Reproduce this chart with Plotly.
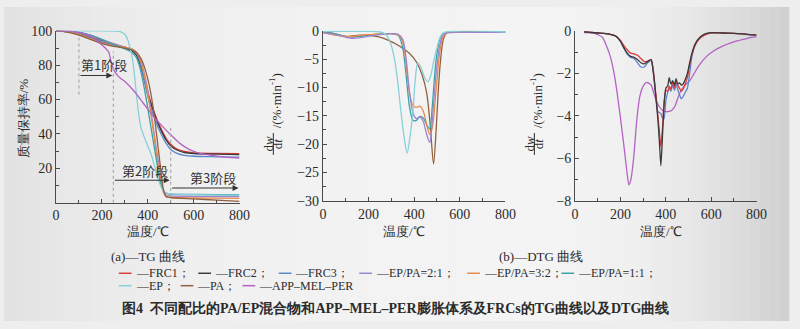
import numpy as np
import plotly.graph_objects as go

# ---------------- series definitions ----------------
names = ["FRC1", "FRC2", "FRC3", "EP/PA=2:1", "EP/PA=3:2", "EP/PA=1:1", "EP", "PA", "APP-MEL-PER"]
colors = ["#dc3b38", "#3a3a3a", "#5a86cc", "#9d84cf", "#e88a4c", "#3aa3a6", "#86d0da", "#93603f", "#b462c4"]

# TG curves: temperature (°C) and mass retention (%)
tg_T_frc = [0, 50, 100, 150, 200, 250, 300, 330, 350, 365, 380, 395, 410, 425, 440, 460, 480, 500, 530, 560, 600, 700, 800]
tg_frc1 = [100, 99.6, 98.5, 96.5, 94.5, 92.5, 90.5, 89, 86.5, 82, 75, 67, 60, 54, 48.5, 42.5, 37.5, 34, 31, 29.8, 29, 28.7, 28.5]
tg_frc2 = [100, 99.5, 98, 96, 93.5, 91.5, 90, 88.5, 86, 81, 74, 66, 59, 53, 47.5, 41.5, 36.5, 33, 30.5, 29.2, 28.6, 28.2, 28]
tg_frc3 = [100, 99.5, 98.3, 96.2, 93.8, 91.8, 90.5, 89.5, 87.5, 82.5, 74, 65, 57, 51, 45.5, 39.5, 34.5, 31, 28.5, 27.5, 27, 26.7, 26.5]

tg_T_mix = [0, 50, 100, 150, 200, 250, 300, 330, 350, 365, 380, 395, 410, 425, 440, 455, 468, 480, 500, 600, 800]
tg_ep_pa_21 = [100, 99.8, 99, 97.5, 95, 92.5, 90.5, 89, 87, 84, 78, 69, 57, 43, 29, 16, 7, 4.5, 4, 3.7, 3.5]
tg_ep_pa_32 = [100, 99.5, 98, 95.5, 93, 91.5, 90.5, 89.5, 87.5, 84, 77, 67, 55, 41, 27, 14, 6, 3.5, 3, 2.8, 2.5]
tg_ep_pa_11 = [100, 99.8, 99.2, 97.5, 95, 92, 89.5, 87.5, 84.5, 79, 70, 59, 47, 35, 23, 12, 7, 5.5, 5, 4.8, 4.5]

tg_T_pa = [0, 50, 100, 150, 200, 250, 300, 330, 350, 370, 390, 410, 425, 440, 455, 468, 480, 500, 600, 700, 800]
tg_pa = [100, 99.3, 97.5, 95, 92.5, 91, 90, 89, 87.5, 84, 77, 66, 54, 38, 21, 8, 3.5, 3, 2.2, 1.5, 0.8]

tg_T_ep = [0, 100, 200, 250, 280, 300, 315, 330, 340, 350, 360, 370, 385, 400, 415, 430, 445, 460, 475, 490, 550, 700, 800]
tg_ep = [100, 100, 100, 99.9, 99.5, 98, 94, 86, 77, 64, 52, 44, 38, 33, 28, 21, 14, 8.5, 6, 5.2, 4.8, 4.4, 4.2]

tg_T_app = [0, 50, 100, 150, 190, 215, 230, 240, 250, 265, 285, 300, 340, 380, 420, 460, 500, 540, 580, 620, 680, 740, 800]
tg_app = [100, 99.8, 99, 97, 93, 90, 87.5, 82, 78, 74.5, 72, 70.5, 65, 58, 51, 45, 39.5, 34.5, 31, 29, 27.5, 26.5, 26]

# DTG curves of the EP / PA systems: temperature (°C) and dw/dt (%·min⁻¹)
dtg_T_mix = [0, 60, 120, 180, 240, 300, 330, 350, 365, 380, 395, 410, 425, 440, 455, 468, 480, 495, 510, 525, 545, 600, 800]
dtg_ep_pa_21 = [-0.3, -0.7, -1.3, -1.1, -0.7, -0.5, -0.6, -1.5, -5, -11, -14.5, -15.5, -15.2, -16, -18.3, -19.7, -15.5, -8, -3, -0.8, -0.3, -0.25, -0.25]
dtg_ep_pa_32 = [-0.3, -0.8, -1.0, -0.7, -0.6, -0.5, -0.7, -2, -6, -11, -13.2, -13.5, -13.3, -14.2, -16.5, -18.3, -17, -11, -4.5, -1.2, -0.3, -0.25, -0.25]
dtg_ep_pa_11 = [-0.2, -0.6, -1.1, -0.9, -0.6, -0.5, -0.8, -3, -8, -13.5, -15.8, -15.8, -15.1, -15.4, -16.6, -17.3, -13, -5.5, -1.8, -0.5, -0.3, -0.25, -0.25]

dtg_T_pa = [0, 50, 100, 150, 200, 250, 300, 340, 380, 410, 435, 455, 470, 485, 497, 505, 515, 528, 545, 600, 800]
dtg_pa = [-0.2, -0.5, -1.0, -0.8, -0.8, -1.1, -1.9, -2.8, -4.0, -5.5, -7.8, -11, -16.5, -23.5, -17, -11, -5.5, -1.5, -0.3, -0.2, -0.2]

dtg_T_ep = [0, 100, 200, 250, 275, 295, 310, 325, 340, 355, 369, 383, 395, 405, 416, 430, 445, 459, 472, 485, 500, 515, 530, 800]
dtg_ep = [-0.1, -0.1, -0.1, -0.2, -0.6, -2, -4.2, -8, -13.5, -18.5, -21.6, -18.3, -14, -8.5, -5.6, -6.5, -8.2, -9, -8, -5.5, -3, -1, -0.3, -0.2]

# DTG curves of the intumescent system and FRCs
dtg_T_frc = [40, 100, 150, 180, 200, 215, 230, 245, 260, 275, 290, 305, 320, 335, 345, 355, 365, 372, 378, 385, 392, 400,
             408, 415, 422, 430, 438, 445, 452, 460, 468, 476, 485, 495, 505, 515, 530, 550, 570, 600, 650, 700, 750, 800]
dtg_frc1 = [-0.05, -0.1, -0.15, -0.25, -0.45, -0.7, -0.9, -1.05, -1.08, -1.15, -1.3, -1.45, -1.42, -1.35, -1.9, -2.9, -4.0, -4.8,
            -5.45, -4.6, -3.4, -2.8, -2.85, -2.6, -2.75, -2.4, -2.7, -2.35, -2.55, -2.7, -2.85, -2.75, -2.5, -2.2, -1.6, -1.1,
            -0.65, -0.35, -0.2, -0.1, -0.1, -0.12, -0.15, -0.2]
dtg_frc2 = [-0.05, -0.1, -0.15, -0.25, -0.5, -0.8, -1.05, -1.2, -1.25, -1.35, -1.5, -1.55, -1.45, -1.35, -1.95, -3.0, -4.2, -5.3,
            -6.35, -5.0, -3.5, -2.7, -2.6, -2.2, -2.5, -2.35, -2.55, -2.25, -2.5, -2.45, -2.55, -2.5, -2.3, -2.0, -1.5, -1.05,
            -0.6, -0.3, -0.15, -0.08, -0.1, -0.12, -0.15, -0.2]
dtg_frc3 = [-0.05, -0.1, -0.15, -0.25, -0.5, -0.8, -1.1, -1.25, -1.3, -1.5, -1.7, -1.7, -1.5, -1.4, -2.0, -3.0, -3.8, -3.85,
            -3.9, -4.1, -4.15, -3.3, -2.9, -2.7, -2.85, -2.55, -2.8, -2.5, -2.75, -3.0, -3.2, -3.1, -2.9, -2.7, -2.0, -1.2,
            -0.65, -0.32, -0.18, -0.1, -0.1, -0.12, -0.15, -0.2]

dtg_T_app = [40, 80, 120, 140, 155, 170, 185, 200, 215, 228, 237, 246, 258, 272, 285, 300, 316, 335, 350, 370, 390, 410, 425,
             440, 455, 470, 490, 505, 525, 545, 575, 610, 650, 700, 750, 780, 800]
dtg_app = [-0.08, -0.1, -0.3, -0.75, -1.2, -1.9, -2.9, -4.1, -5.4, -6.6, -7.25, -7.0, -6.0, -4.2, -3.1, -2.6, -2.43, -2.55,
           -3.05, -3.55, -3.78, -3.8, -3.75, -3.55, -3.1, -2.75, -2.5, -2.35, -2.0, -1.65, -1.25, -0.95, -0.72, -0.52, -0.38,
           -0.3, -0.28]

# axis tick labels
tg_xticks = [0, 200, 400, 600, 800]
tg_yticks = [20, 40, 60, 80, 100]
dtg1_yticks = [0, -5, -10, -15, -20, -25, -30]
dtg2_yticks = [0, -2, -4, -6, -8]

# stage labels on the TG panel
stage_text = ["第1阶段", "第2阶段", "第3阶段"]
stage_bounds = [100, 250, 500, 800]

W, H = 800, 329
SERIF = "Liberation Serif"
CJK = "Noto Sans CJK SC"
INK = "#2b2b2b"

fig = go.Figure()

# ---------------- background shading ----------------
stops_x = [0, 60, 200, 400, 560, 640, 700, 760, 800]
stops_g = [225, 232, 240, 243, 244, 240, 231, 218, 208]
n_strip = 80
for i in range(n_strip):
    x0 = i * W / n_strip
    x1 = (i + 1) * W / n_strip
    g = int(round(np.interp((x0 + x1) / 2, stops_x, stops_g)))
    fig.add_shape(type="rect", xref="paper", yref="paper", x0=x0 / W, x1=x1 / W + 0.0005, y0=0, y1=1,
                  line_width=0, fillcolor=f"rgb({g},{g},{g})", layer="below")


def px_x(p):
    return p / W


def px_y(p):
    return 1 - p / H


line_kw = dict(shape="spline", smoothing=0.8, width=1.3)

# ---------------- TG panel ----------------
tg_series = [
    (tg_T_frc, tg_frc1, 0), (tg_T_frc, tg_frc2, 1), (tg_T_frc, tg_frc3, 2),
    (tg_T_mix, tg_ep_pa_21, 3), (tg_T_mix, tg_ep_pa_32, 4), (tg_T_mix, tg_ep_pa_11, 5),
    (tg_T_ep, tg_ep, 6), (tg_T_pa, tg_pa, 7), (tg_T_app, tg_app, 8),
]
for T, v, k in tg_series:
    fig.add_trace(go.Scatter(x=T, y=v, mode="lines", line=dict(color=colors[k], **line_kw),
                             name=names[k], showlegend=False, xaxis="x", yaxis="y"))

# ---------------- DTG panel (EP/PA systems) ----------------
dtg1_series = [
    (dtg_T_pa, dtg_pa, 7), (dtg_T_mix, dtg_ep_pa_11, 5), (dtg_T_mix, dtg_ep_pa_32, 4),
    (dtg_T_mix, dtg_ep_pa_21, 3), (dtg_T_ep, dtg_ep, 6),
]
for T, v, k in dtg1_series:
    fig.add_trace(go.Scatter(x=T, y=v, mode="lines", line=dict(color=colors[k], **line_kw),
                             name=names[k], showlegend=False, xaxis="x2", yaxis="y2"))

# ---------------- DTG panel (intumescent system and FRCs) ----------------
dtg2_series = [
    (dtg_T_app, dtg_app, 8), (dtg_T_frc, dtg_frc3, 2), (dtg_T_frc, dtg_frc1, 0), (dtg_T_frc, dtg_frc2, 1),
]
for T, v, k in dtg2_series:
    fig.add_trace(go.Scatter(x=T, y=v, mode="lines",
                             line=dict(color=colors[k], shape="spline", smoothing=0.6, width=1.3),
                             name=names[k], showlegend=False, xaxis="x3", yaxis="y3"))

# ---------------- axes ----------------
axis_common = dict(showline=True, linecolor="#4a4a4a", linewidth=1, mirror=False, showgrid=False, zeroline=False,
                   ticks="inside", ticklen=4, tickwidth=1, tickcolor="#4a4a4a",
                   tickfont=dict(family=SERIF, size=14, color=INK))
minor_x = dict(dtick=100, ticks="inside", ticklen=3, tickcolor="#4a4a4a")

fig.update_layout(
    width=W, height=H, margin=dict(l=0, r=0, t=0, b=0), autosize=False,
    paper_bgcolor="rgb(238,238,238)", plot_bgcolor="rgba(0,0,0,0)", showlegend=False,
    xaxis=dict(domain=[px_x(53), px_x(240)], range=[0, 800], anchor="y", tickvals=tg_xticks,
               minor=minor_x, **axis_common),
    yaxis=dict(domain=[px_y(205), px_y(25)], range=[0, 100], anchor="x", tickvals=tg_yticks,
               minor=dict(tickvals=[10, 30, 50, 70, 90], ticks="inside", ticklen=3, tickcolor="#4a4a4a"), **axis_common),
    xaxis2=dict(domain=[px_x(325), px_x(511)], range=[0, 800], anchor="y2", tickvals=tg_xticks,
                minor=minor_x, **axis_common),
    yaxis2=dict(domain=[px_y(203), px_y(25)], range=[-30, 0], anchor="x2", tickvals=dtg1_yticks,
                minor=dict(dtick=2.5, ticks="inside", ticklen=3, tickcolor="#4a4a4a"), **axis_common),
    xaxis3=dict(domain=[px_x(582), px_x(767)], range=[0, 800], anchor="y3", tickvals=tg_xticks,
                minor=minor_x, **axis_common),
    yaxis3=dict(domain=[px_y(203), px_y(25)], range=[-8, 0], anchor="x3", tickvals=dtg2_yticks,
                minor=dict(dtick=1, ticks="inside", ticklen=3, tickcolor="#4a4a4a"), **axis_common),
)

annotations = []
shapes = []


def text_at(x, y, text, size=13, angle=0, anchor="center", family=SERIF, color=INK):
    annotations.append(dict(xref="paper", yref="paper", x=px_x(x), y=px_y(y), text=text, showarrow=False,
                            textangle=angle, xanchor=anchor, yanchor="middle",
                            font=dict(family=family, size=size, color=color)))


# axis titles
text_at(20, 117, "质量保持率/%", size=13, angle=-90)
for cx in (147, 408, 670):
    text_at(cx, 235, "温度/℃", size=13)
for nx, dx, bar_x, rx in ((270, 279, 274.5, 276), (536, 545, 540.5, 542)):
    text_at(nx, 143, "d<i>w</i>", size=13, angle=-90)
    text_at(dx, 143, "d<i>t</i>", size=13, angle=-90)
    shapes.append(dict(type="line", xref="paper", yref="paper", x0=px_x(bar_x), x1=px_x(bar_x),
                       y0=px_y(132), y1=px_y(155), line=dict(color=INK, width=1)))
    text_at(rx, 98, "/(%·min<sup>-1</sup>)", size=13, angle=-90)

# sub-captions
text_at(147, 261, "(a)—TG 曲线", size=13)
text_at(547, 261, "(b)—DTG 曲线", size=13)

# legend keys
legend_rows = [
    ([0, 1, 2, 3, 4, 5], [117, 198, 280, 362, 472, 568], 279),
    ([6, 7, 8], [117, 180, 243], 292),
]
for idx, xs, y in legend_rows:
    for k, x in zip(idx, xs):
        shapes.append(dict(type="line", xref="paper", yref="paper", x0=px_x(x), x1=px_x(x + 13),
                           y0=px_y(y), y1=px_y(y), line=dict(color=colors[k], width=1.5)))
        sep = "" if k == 8 else "；"
        text_at(x + 15, y, "—" + names[k].replace("-", "–") + sep, size=12, anchor="left")

# figure caption
text_at(118, 316, "<b>图4  不同配比的PA/EP混合物和APP–MEL–PER膨胀体系及FRCs的TG曲线以及DTG曲线</b>",
        size=14, anchor="left")

# stage markers on the TG panel
dash_spans = [(100, 96, 63), (250, 88, 0), (500, 44, 0)]
for xv, y_top, y_bot in dash_spans:
    shapes.append(dict(type="line", xref="x", yref="y", x0=xv, x1=xv, y0=y_bot, y1=y_top,
                       line=dict(color="#a8a8a8", width=1.2, dash="3px,3px")))
arrow_y = [74, 13, 8.5]
label_pos = [(100, 80.5), (280, 19), (575, 14.5)]
for i in range(3):
    annotations.append(dict(xref="x", yref="y", axref="x", ayref="y",
                            x=stage_bounds[i + 1] - 4, y=arrow_y[i], ax=stage_bounds[i], ay=arrow_y[i],
                            text="", showarrow=True, arrowhead=2, arrowsize=1.1, arrowwidth=1.1,
                            arrowcolor="#333333"))
    annotations.append(dict(xref="x", yref="y", x=label_pos[i][0], y=label_pos[i][1], text=stage_text[i],
                            showarrow=False, xanchor="left", yanchor="middle",
                            font=dict(family=CJK, size=13, color="#333333")))

fig.update_layout(annotations=annotations, shapes=list(fig.layout.shapes) + shapes)

fig.write_html("out.html")
